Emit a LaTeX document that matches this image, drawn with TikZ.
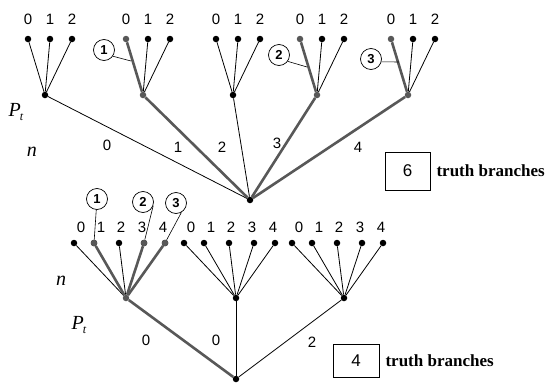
\documentclass[tikz,border=0pt]{standalone}
\usepackage{fontspec}
\setsansfont{Liberation Sans}
\newfontfamily\tbfont{Liberation Serif}
\usetikzlibrary{positioning}
\definecolor{truthgray}{RGB}{88,88,88}
\newcommand{\Pt}{\textit{P}\kern-1pt\raisebox{-4pt}{\fontsize{12}{12}\selectfont\textit{t}}}
\tikzset{%
  vertex/.style   = {circle, fill=black, inner sep=0pt, minimum size=6.5pt},%
  tvertex/.style  = {vertex, fill=truthgray},%
  branch/.style   = {line width=0.8pt},%
  tbranch/.style  = {line width=2.6pt, truthgray},%
  pointer/.style  = {line width=0.6pt},%
  lbl/.style      = {font=\sffamily\fontsize{15}{15}\selectfont, inner sep=0pt},%
  circnum/.style  = {circle, draw, line width=0.7pt, inner sep=0pt,%
                     minimum size=21pt, font=\sffamily\bfseries\fontsize{13}{13}\selectfont},%
  countbox/.style = {rectangle, draw, line width=0.7pt, minimum width=45pt,%
                     minimum height=36pt, font=\sffamily\fontsize{17}{17}\selectfont},%
  tbtext/.style   = {font=\tbfont\bfseries\fontsize{17}{17}\selectfont, inner sep=0pt},%
  var/.style      = {font=\tbfont\itshape\fontsize{20}{20}\selectfont, inner sep=0pt}%
}

\begin{document}
\begin{tikzpicture}[x=1pt,y=-1pt]
\useasboundingbox (0,0) rectangle (549,383);
% upper tree
\node[vertex] (t) at (250,200) {};
\foreach \s/\x/\st/\ed in {a/45/vertex/branch, b/143/tvertex/tbranch,
  c/233/vertex/branch, d/317/tvertex/tbranch, e/408/tvertex/tbranch}{
  \node[\st] (t\s) at (\x,95) {};
  \node[\st] (t\s0) at (\x-17,39) {};
  \node[vertex] (t\s1) at (\x+5,39) {};
  \node[vertex] (t\s2) at (\x+27,39) {};
  \draw[\ed] (t) -- (t\s);
  \draw[\ed] (t\s) -- (t\s0);
  \draw[branch] (t\s) -- (t\s1);
  \draw[branch] (t\s) -- (t\s2);
  \foreach \k/\dx in {0/-17,1/5,2/27}
    \node[lbl] (t\s\k n) at (\x+\dx,19) {\k};
}
\node[lbl] (te0) at (107,145) {0};
\node[lbl] (te1) at (178,147) {1};
\node[lbl] (te2) at (222,147) {2};
\node[lbl] (te3) at (277,143) {3};
\node[lbl] (te4) at (358,147) {4};
\node[var] (tp) at (16,112) {\Pt};
\node[var] (tn) at (32,152) {n};
\node[circnum] (u1) at (104,50) {1};
\node[circnum] (u2) at (279,55) {2};
\node[circnum] (u3) at (371,59) {3};
\coordinate (u1e) at (131,61);
\coordinate (u2e) at (307,67);
\coordinate (u3e) at (399,62);
\draw[pointer] (u1.-35) -- (u1e);
\draw[pointer] (u2.-36) -- (u2e);
\draw[pointer] (u3.-15) -- (u3e);
\node[countbox, minimum height=38pt] (k6) at (407.5,171) {6};
\node[tbtext, right=6pt of k6] (k6t) {truth branches};
% lower tree
\node[vertex] (b) at (236,379) {};
\foreach \s/\x/\st/\ed in {l/126/tvertex/tbranch, m/236/vertex/branch,
  r/344/vertex/branch}{
  \node[\st] (b\s) at (\x,298) {};
  \draw[\ed] (b) -- (b\s);
  \foreach \k/\dx/\lx in {0/-52/-45,1/-32/-25,2/-7/-5,3/18/16,4/39/37}{
    \node[vertex] (b\s\k) at (\x+\dx,243) {};
    \draw[branch] (b\s) -- (b\s\k);
    \node[lbl] (b\s\k n) at (\x+\lx,227) {\k};
  }
}
\foreach \k in {1,3,4}{
  \node[tvertex] (bl\k t) at (bl\k) {};
  \draw[tbranch] (bl) -- (bl\k t);
}
\node[lbl] (be0) at (146,340) {0};
\node[lbl] (be1) at (216,340) {0};
\node[lbl] (be2) at (312,342) {2};
\node[var] (bn) at (61,281) {n};
\node[var] (bp) at (79,325) {\Pt};
\node[circnum] (v1) at (97,199) {1};
\node[circnum] (v2) at (143,202) {2};
\node[circnum] (v3) at (176,203) {3};
\draw[pointer] (v1) -- (bl1t);
\draw[pointer] (v2.-20) -- (bl3t);
\draw[pointer] (v3.-60) -- (bl4t);
\node[countbox, minimum height=33pt, minimum width=46pt] (k4) at (356,360.5) {4};
\node[tbtext, right=6pt of k4] (k4t) {truth branches};
\end{tikzpicture}
\end{document}
